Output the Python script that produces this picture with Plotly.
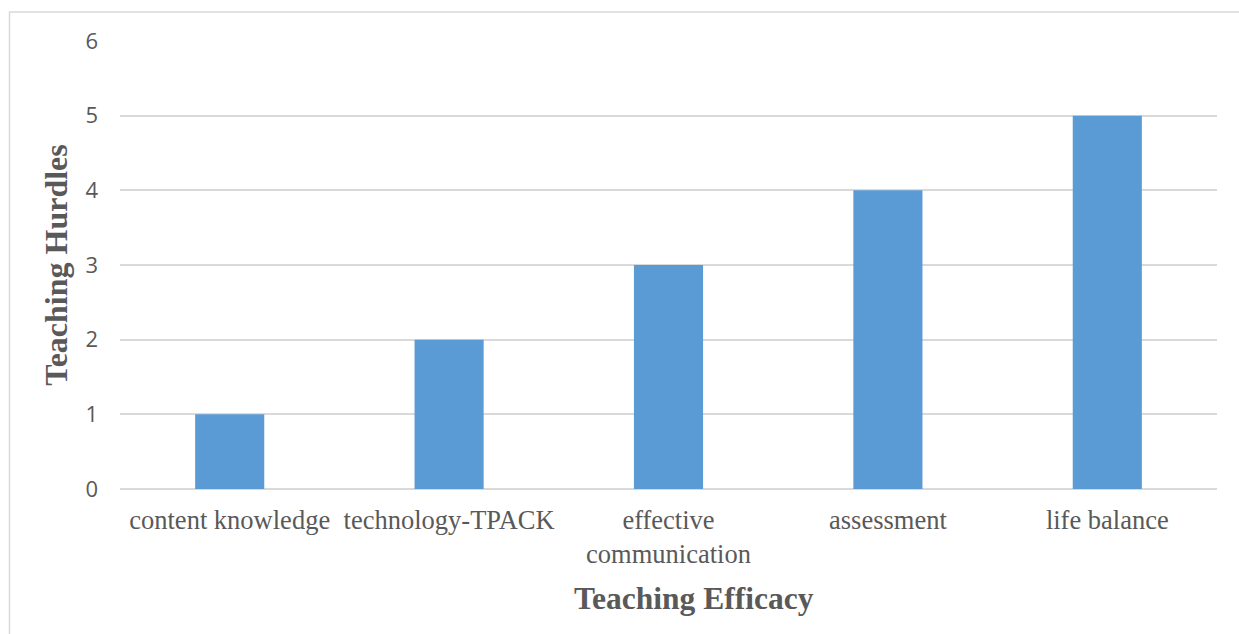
import plotly.graph_objects as go

categories = ["content knowledge", "technology-TPACK", "effective<br>communication", "assessment", "life balance"]
values = [1, 2, 3, 4, 5]
y_ticks = [0, 1, 2, 3, 4, 5, 6]

W, H = 1239, 634
ml, mr, mt, mb = 120, 22, 41, 145
pw, ph = W - ml - mr, H - mt - mb

def px_x(x):
    return (x - ml) / pw

def px_y(y):
    return (H - mb - y) / ph

fig = go.Figure()
fig.add_trace(go.Bar(x=categories, y=values, marker=dict(color="#5B9BD5", line=dict(width=0)),
                     hoverinfo="x+y"))

fig.update_layout(
    width=W, height=H,
    margin=dict(l=ml, r=mr, t=mt, b=mb, autoexpand=False),
    paper_bgcolor="white", plot_bgcolor="white",
    bargap=0.685,
    showlegend=False,
    shapes=[dict(type="rect", xref="paper", yref="paper",
                 x0=px_x(9.5), x1=px_x(1250), y0=px_y(650), y1=px_y(12),
                 line=dict(color="#d9d9d9", width=1.5), layer="below")],
    annotations=[dict(text="<b>Teaching Efficacy</b>", xref="paper", yref="paper",
                      x=px_x(694), y=px_y(598), xanchor="center", yanchor="middle",
                      showarrow=False,
                      font=dict(family="Liberation Serif", size=31.5, color="#595959"))],
)

fig.update_xaxes(
    tickfont=dict(family="Liberation Serif", size=26.5, color="#595959"),
    showgrid=False, showline=False, ticks="", ticklabelstandoff=12,
    automargin=False,
)
fig.update_yaxes(
    range=[0, 6], tickvals=y_ticks, ticktext=[str(v) for v in y_ticks],
    tickfont=dict(family="Open Sans", size=22, color="#595959"),
    showgrid=True, gridcolor="#d9d9d9", gridwidth=1.5,
    zeroline=True, zerolinecolor="#d9d9d9", zerolinewidth=1.5,
    showline=False, ticks="", ticklabelstandoff=21,
    title=dict(text="<b>Teaching Hurdles</b>", standoff=8,
               font=dict(family="Liberation Serif", size=32, color="#595959")),
    automargin=False,
)

fig.write_html("out.html", config={"displayModeBar": False},
               post_script="document.body.style.margin='0px';document.body.style.overflow='hidden';")
